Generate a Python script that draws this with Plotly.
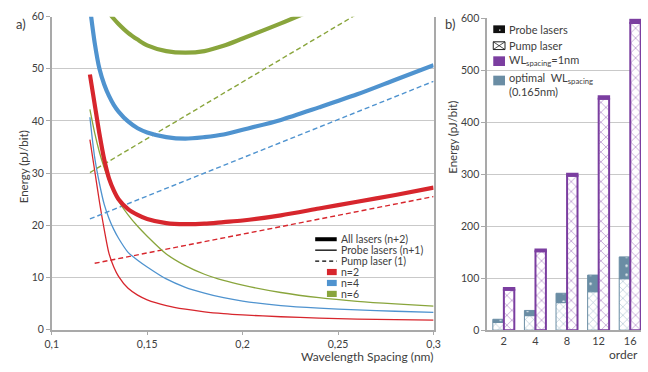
import plotly.graph_objects as go

W, H = 648, 372

# ---------------- panel a) data ----------------
spacing = [0.12, 0.1225, 0.125, 0.1275, 0.13, 0.1325, 0.135, 0.14, 0.145, 0.15,
           0.16, 0.17, 0.18, 0.19, 0.2, 0.22, 0.24, 0.26, 0.28, 0.3]
all_n2 = [48.9, 43.2, 37.5, 32.6, 29.0, 26.7, 25.0, 23.1, 22.0, 21.2,
          20.4, 20.2, 20.3, 20.6, 20.9, 21.9, 23.2, 24.5, 25.8, 27.2]
all_n4 = [61.9, 55.0, 50.0, 47.0, 44.8, 43.1, 41.8, 39.9, 38.6, 37.8,
          36.9, 36.6, 36.9, 37.4, 38.3, 40.2, 42.6, 45.1, 47.9, 50.7]
all_n6 = [72.3, 68.0, 64.8, 62.5, 60.8, 59.6, 58.6, 56.9, 55.6, 54.5,
          53.4, 53.1, 53.4, 54.4, 55.8, 58.7, 61.8, 65.0, 68.3, 71.8]
probe_n2 = [36.4, 30.5, 24.5, 19.2, 14.6, 12.0, 10.2, 7.9, 6.6, 5.7,
            4.6, 3.9, 3.4, 3.05, 2.8, 2.45, 2.2, 2.0, 1.9, 1.8]
probe_n4 = [40.7, 33.0, 28.0, 24.0, 21.3, 19.2, 17.5, 14.8, 13.3, 12.0,
            9.7, 8.1, 7.0, 6.1, 5.45, 4.6, 4.1, 3.75, 3.5, 3.3]
probe_n6 = [42.2, 37.7, 34.0, 31.0, 28.5, 26.4, 24.6, 22.0, 19.8, 17.9,
            14.5, 12.25, 10.6, 9.4, 8.5, 7.1, 6.1, 5.4, 4.9, 4.5]
pump_x_n2 = [0.1225, 0.3]
pump_n2 = [12.7, 25.5]
pump_x = [0.12, 0.3]
pump_n4 = [21.2, 47.6]
pump_n6 = [30.1, 69.2]

# ---------------- panel b) data ----------------
orders = ["2", "4", "8", "12", "16"]
opt_pump = [15, 28, 53, 74, 99]
opt_probe = [6, 10, 18, 32, 42]
nm_pump = [78, 152, 297, 445, 591]
nm_probe = [3, 3, 4, 5, 6]

RED, BLUE, GREEN = "#d7262d", "#4f93cf", "#89a53c"
PURPLE, STEEL = "#7b3ea0", "#6a8da4"
FONT = "Lato"
TXT = "#404040"
GRID = "#c9c9c9"
AXIS = "#a9a9a9"


def px(x):
    return x / W


def py(y):
    return 1 - y / H


fig = go.Figure()

# panel a traces
for n, probev, pumpx, pumpv, col in [
    (2, probe_n2, pump_x_n2, pump_n2, RED),
    (4, probe_n4, pump_x, pump_n4, BLUE),
    (6, probe_n6, pump_x, pump_n6, GREEN),
]:
    fig.add_trace(go.Scatter(x=pumpx, y=pumpv, mode="lines", name=f"Pump laser (1), n={n}",
                             line=dict(color=col, width=1.4, dash="5px,3px"),
                             showlegend=False, xaxis="x", yaxis="y"))
    fig.add_trace(go.Scatter(x=spacing, y=probev, mode="lines", name=f"Probe lasers (n+1), n={n}",
                             line=dict(color=col, width=1.3, shape="spline", smoothing=0.8),
                             showlegend=False, xaxis="x", yaxis="y"))
for n, allv, col in [(6, all_n6, GREEN), (4, all_n4, BLUE), (2, all_n2, RED)]:
    fig.add_trace(go.Scatter(x=spacing, y=allv, mode="lines", name=f"All lasers (n+2), n={n}",
                             line=dict(color=col, width=4.2, shape="spline", smoothing=0.8),
                             showlegend=False, xaxis="x", yaxis="y"))

# panel b traces
fig.add_trace(go.Bar(x=orders, y=opt_pump, name="optimal WL spacing - Pump laser",
                     xaxis="x2", yaxis="y2", width=0.34, offset=-0.345,
                     marker=dict(color="white", line=dict(color=STEEL, width=1),
                                 pattern=dict(shape="x", fgcolor="#a3bccb", bgcolor="white",
                                              size=6, solidity=0.18, fillmode="replace")),
                     showlegend=False))
fig.add_trace(go.Bar(x=orders, y=opt_probe, base=opt_pump, name="optimal WL spacing - Probe lasers",
                     xaxis="x2", yaxis="y2", width=0.34, offset=-0.345,
                     marker=dict(color=STEEL, line=dict(color=STEEL, width=1),
                                 pattern=dict(shape=".", fgcolor="#e8eef2", bgcolor=STEEL,
                                              size=9, solidity=0.06, fillmode="replace")),
                     showlegend=False))
fig.add_trace(go.Bar(x=orders, y=nm_pump, name="WL spacing=1nm - Pump laser",
                     xaxis="x2", yaxis="y2", width=0.33, offset=0.005,
                     marker=dict(color="white", line=dict(color=PURPLE, width=2),
                                 pattern=dict(shape="x", fgcolor="#b793cc", bgcolor="white",
                                              size=7, solidity=0.2, fillmode="replace")),
                     showlegend=False))
fig.add_trace(go.Bar(x=orders, y=nm_probe, base=nm_pump, name="WL spacing=1nm - Probe lasers",
                     xaxis="x2", yaxis="y2", width=0.33, offset=0.005,
                     marker=dict(color=PURPLE, line=dict(color=PURPLE, width=2)),
                     showlegend=False))

shapes = []
annotations = []


def text(x, y, s, size=10.5, xanchor="left", yanchor="middle", angle=0, align="left"):
    annotations.append(dict(x=px(x), y=py(y), xref="paper", yref="paper", text=s,
                            showarrow=False, xanchor=xanchor, yanchor=yanchor,
                            textangle=angle, align=align, borderpad=0,
                            font=dict(family=FONT, size=size, color=TXT)))


# ----- legend a)
rows_a = [241, 252.3, 263.6, 274.9, 286.2, 297.5]
for yy, w, d, lab in [(rows_a[0], 4, "solid", "All lasers (n+2)"),
                      (rows_a[1], 1.3, "solid", "Probe lasers (n+1)"),
                      (rows_a[2], 1.3, "4px,3px", "Pump laser (1)")]:
    shapes.append(dict(type="line", xref="paper", yref="paper", x0=px(315), x1=px(337),
                       y0=py(yy), y1=py(yy), line=dict(color="black", width=w, dash=d)))
    text(340, yy, lab)
for yy, col, lab in [(rows_a[3], RED, "n=2"), (rows_a[4], BLUE, "n=4"), (rows_a[5], GREEN, "n=6")]:
    shapes.append(dict(type="rect", xref="paper", yref="paper", x0=px(327), x1=px(337),
                       y0=py(yy + 3.2), y1=py(yy - 3.2), fillcolor=col, line=dict(width=0)))
    text(340, yy, lab)

# ----- legend b)
shapes.append(dict(type="rect", xref="paper", yref="paper", x0=px(497), x1=px(509),
                   y0=py(28), y1=py(20), fillcolor="#111111", line=dict(width=0)))
shapes.append(dict(type="rect", xref="paper", yref="paper", x0=px(503), x1=px(504.3),
                   y0=py(25.5), y1=py(24.2), fillcolor="white", line=dict(width=0)))
text(512, 24, "Probe lasers", size=11)
shapes.append(dict(type="rect", xref="paper", yref="paper", x0=px(497), x1=px(509),
                   y0=py(45), y1=py(37), fillcolor="white", line=dict(color="#222222", width=1)))
shapes.append(dict(type="line", xref="paper", yref="paper", x0=px(497), x1=px(509),
                   y0=py(37), y1=py(45), line=dict(color="#222222", width=0.8)))
shapes.append(dict(type="line", xref="paper", yref="paper", x0=px(497), x1=px(509),
                   y0=py(45), y1=py(37), line=dict(color="#222222", width=0.8)))
text(512, 41, "Pump laser", size=11)
shapes.append(dict(type="rect", xref="paper", yref="paper", x0=px(497), x1=px(509),
                   y0=py(62), y1=py(52), fillcolor=PURPLE, line=dict(width=0)))
text(512, 56, "WL<sub>spacing</sub>=1nm", size=11)
shapes.append(dict(type="rect", xref="paper", yref="paper", x0=px(497), x1=px(509),
                   y0=py(82), y1=py(72), fillcolor=STEEL, line=dict(width=0)))
text(512, 66, "optimal  WL<sub>spacing</sub><br>(0.165nm)", size=11, yanchor="top")

# ----- titles / labels
text(17, 166, "Energy (pJ/bit)", size=11.5, xanchor="center", angle=-90)
text(436, 362, "Wavelength Spacing (nm)", size=12, xanchor="right")
text(455, 136, "Energy (pJ/bit)", size=11.5, xanchor="center", angle=-90)
text(646, 360, "order", size=12, xanchor="right")
text(8, 19, "a)", size=13)
text(447, 19, "b)", size=13)

fig.update_layout(
    width=W, height=H,
    margin=dict(l=0, r=0, t=0, b=0),
    paper_bgcolor="white", plot_bgcolor="white",
    separators=", ",
    font=dict(family=FONT, size=10.5, color=TXT),
    showlegend=False,
    barmode="overlay",
    xaxis=dict(domain=[px(45.7), px(436)], range=[0.1, 0.3], dtick=0.05, tick0=0.1,
               tickformat=".2~f", showgrid=False, zeroline=False,
               showline=True, linecolor=AXIS, linewidth=1.5,
               ticks="outside", ticklen=4, tickcolor=AXIS, tickwidth=1.2,
               tickfont=dict(family=FONT, size=10.5, color=TXT)),
    yaxis=dict(domain=[py(334.3), py(11)], range=[0, 60], dtick=10,
               showgrid=True, gridcolor=GRID, gridwidth=1.3, zeroline=False,
               showline=True, linecolor=AXIS, linewidth=1.5, mirror=True,
               ticks="outside", ticklen=4, tickcolor=AXIS, tickwidth=1.2,
               tickfont=dict(family=FONT, size=10.5, color=TXT)),
    xaxis2=dict(domain=[px(490.7), 1.0], type="category", range=[-0.526, 4.344],
                showgrid=False, zeroline=False, showline=True, linecolor=AXIS, linewidth=1.5,
                ticks="", anchor="y2",
                tickfont=dict(family=FONT, size=11, color=TXT)),
    yaxis2=dict(domain=[py(335), py(12.7)], range=[0, 600], dtick=100, anchor="x2",
                showgrid=True, gridcolor=GRID, gridwidth=1.3, zeroline=False,
                showline=True, linecolor=AXIS, linewidth=1.5,
                ticks="outside", ticklen=4, tickcolor=AXIS, tickwidth=1.2,
                tickfont=dict(family=FONT, size=10.5, color=TXT)),
    shapes=shapes,
    annotations=annotations,
)

fig.write_html("out.html",
               config={"displayModeBar": False},
               post_script="document.body.style.margin='0';document.body.style.overflow='hidden';")
